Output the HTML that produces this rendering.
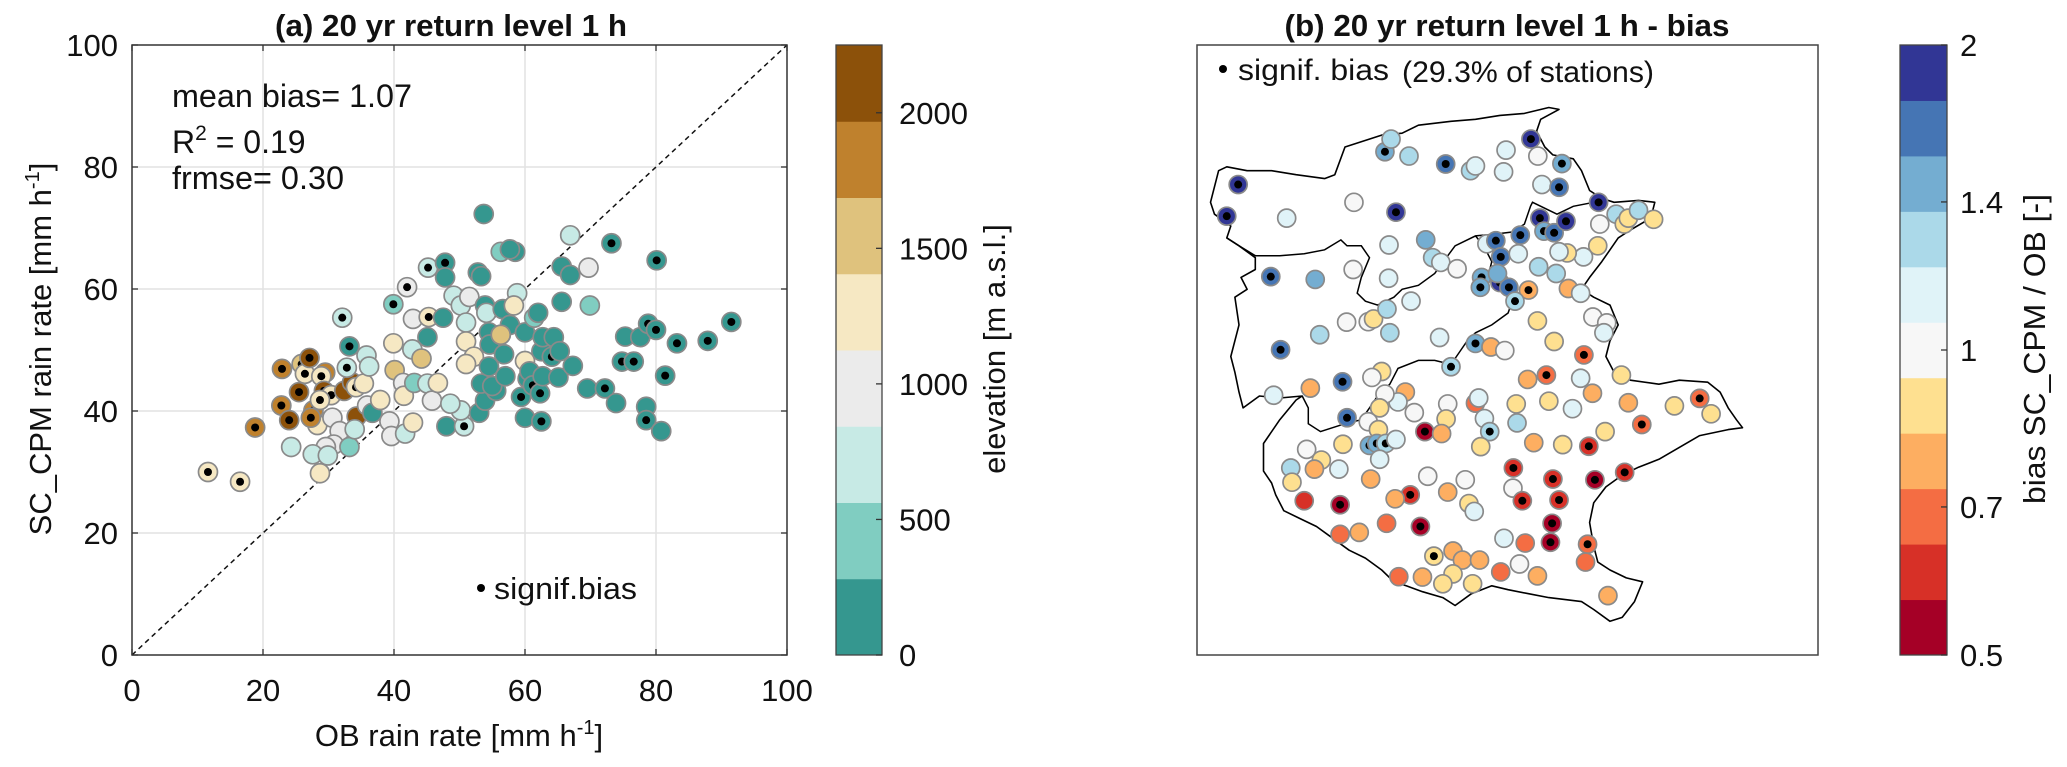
<!DOCTYPE html>
<html><head><meta charset="utf-8"><style>
body{margin:0;background:#fff}
svg{display:block;font-family:"Liberation Sans",Arial,sans-serif}
</style></head><body>
<svg id="chart" width="2067" height="767" viewBox="0 0 2067 767" xmlns="http://www.w3.org/2000/svg">
<g id="pa"></g>
<g id="pb"></g>
</svg>
<script>
// ---- Panel (a) data ----
const obRate=[11.6,16.5,18.8,22.9,22.8,24.0,25.5,25.9,26.4,27.1,27.7,28.3,27.3,29.5,28.9,29.3,30.4,28.7,32.4,33.6,34.3,34.2,35.4,32.1,33.2,32.8,30.6,31.7,30.8,29.6,27.6,29.9,28.7,24.3,33.2,34.0,35.9,36.7,37.9,35.8,36.2,39.9,40.1,39.3,39.6,41.7,41.4,41.5,42.9,43.1,42.8,42.9,44.2,45.1,45.8,46.7,45.1,45.3,45.2,39.9,42.0,47.8,47.8,47.5,48.0,50.7,50.2,48.6,49.1,50.2,51.5,51.0,51.0,52.2,51.0,53.7,52.8,53.3,53.9,54.1,53.0,53.9,53.3,54.5,55.6,55.0,54.5,54.6,56.3,56.3,58.5,57.7,56.8,57.0,56.6,57.7,58.8,58.3,56.3,60.0,59.4,60.0,60.4,60.0,60.7,61.2,61.4,62.0,62.3,62.5,62.7,62.5,62.7,64.1,64.4,65.1,65.3,65.6,66.9,65.6,66.9,67.3,69.7,69.9,69.5,72.2,73.2,73.9,74.8,76.6,75.3,77.6,78.5,78.5,78.8,80.0,80.1,80.8,81.4,83.2,87.9,91.5];
const cpmRate=[30.0,28.4,37.3,46.9,40.9,38.5,43.1,47.7,46.1,48.7,40.1,37.7,38.9,46.3,45.7,43.3,42.6,41.8,43.3,44.7,39.1,43.9,44.5,55.3,50.6,47.1,38.9,36.7,34.5,34.1,32.9,32.7,29.8,34.1,34.1,37.0,40.9,39.7,41.8,49.1,47.3,51.1,46.7,38.3,35.9,36.3,44.6,42.5,38.1,44.6,50.1,55.1,48.6,44.5,41.7,44.6,52.1,55.4,63.5,57.5,60.3,64.3,61.9,55.3,37.5,37.5,40.1,41.2,58.9,57.3,58.7,54.5,51.4,48.9,47.7,72.3,62.7,62.1,57.3,56.1,39.7,41.7,44.5,47.3,43.3,44.1,52.9,50.9,52.5,66.1,66.1,66.5,49.3,45.7,56.7,54.1,59.3,57.3,52.5,48.2,42.3,38.9,45.3,52.9,46.5,44.2,55.3,56.1,42.9,38.3,45.7,49.8,52.1,48.9,52.1,45.5,49.8,63.7,62.3,57.9,68.8,47.4,63.5,57.3,43.7,43.7,67.5,41.3,48.1,48.1,52.2,52.1,40.7,38.5,54.3,53.3,64.7,36.7,45.8,51.1,51.5,54.6];
const elevation=[1265,1265,1830,1830,1830,2110,2110,1545,1265,2110,1830,1265,1830,1830,1265,2110,1265,1265,2110,2110,2110,1265,1265,700,140,700,985,985,985,985,700,700,1265,700,420,700,985,140,1265,700,700,1265,1545,985,985,700,985,1265,1265,420,700,985,1545,700,985,1265,140,1265,700,420,985,140,140,140,140,700,700,700,700,700,985,700,1265,1265,1265,140,140,140,140,700,140,140,140,140,140,140,140,140,700,420,140,140,140,140,140,140,700,1265,1545,1265,140,140,140,140,140,140,420,140,140,140,140,140,140,140,140,140,140,140,140,140,700,140,985,420,140,140,140,140,140,140,140,140,140,140,140,140,140,140,140,140,140,140];
const signifA=[1,1,1,1,1,1,1,1,1,1,1,0,1,1,1,1,1,1,0,1,0,1,0,1,1,1,0,0,0,0,0,0,0,0,0,0,0,0,0,0,0,0,0,0,0,0,0,0,0,0,0,0,0,0,0,0,0,1,1,1,1,1,0,0,0,1,0,0,0,0,0,0,0,0,0,0,0,0,0,0,0,0,0,0,0,0,0,0,0,0,0,0,0,0,0,0,0,0,0,0,1,0,0,0,0,1,0,0,1,1,0,0,0,1,0,0,0,0,0,0,0,0,0,0,0,1,1,0,1,1,0,0,0,1,1,1,1,0,1,1,1,1,1];
const axisTicks=[0,20,40,60,80,100];
const elevTicks=[0,500,1000,1500,2000];
const elevEdges=[0,281.25,562.5,843.75,1125,1406.25,1687.5,1968.75,2250];
const elevColors=["#35978f","#80cdc1","#c7eae5","#ebebeb","#f6e8c3","#dfc27d","#bf812d","#8c510a"];
// ---- Panel (b) data (map-frame coordinates) ----
const stX=[118,90,237,402,505,478,493,537,627,688,700,775,769,836,853,912,863,905,1002,488,578,595,615,655,487,400,198,307,384,437,450,483,490,318,542,612,222,728,750,762,810,805,858,868,893,922,1005,1045,1065,1075,1100,1137,1000,965,925,905,855,898,928,958,715,712,760,782,754,830,797,852,893,988,1022,1015,700,738,772,966,874,828,958,1058,987,640,470,446,374,295,205,528,510,478,465,550,632,700,708,722,628,735,802,800,880,938,1075,1188,1250,1278,1108,1018,978,914,843,713,576,617,385,437,462,375,440,458,480,505,465,286,322,247,305,365,250,443,583,675,793,792,890,993,1066,280,368,540,503,632,684,697,815,905,482,565,888,368,415,770,822,884,975,970,598,645,668,710,808,762,852,645,620,693,570,512,1025];
const stY=[365,445,450,410,435,282,250,293,313,330,318,278,333,250,293,312,365,372,410,518,505,550,562,578,602,580,598,605,713,712,705,680,740,745,660,752,783,515,507,548,493,540,450,483,487,458,465,440,465,450,430,453,520,548,538,535,573,590,628,640,600,625,613,625,590,632,660,710,762,700,715,740,767,776,785,796,847,858,855,847,893,826,838,853,864,880,898,890,915,895,930,942,920,918,905,957,958,990,968,920,913,932,917,925,906,945,972,990,1027,1023,1018,1028,990,995,955,965,985,1022,1025,1020,1020,1010,1060,1035,1062,1082,1085,1085,1118,1110,1103,1112,1082,1133,1110,1112,1093,1165,1175,1150,1160,1143,1172,1192,1165,1163,1222,1230,1222,1250,1245,1260,1272,1270,1275,1320,1305,1292,1315,1315,1325,1345,1355,1350,1375,1375,1358,1357,1405];
const stBias=[1.88,1.88,1.13,1.0,1.88,1.46,1.29,1.29,1.65,1.29,1.13,1.13,1.13,1.88,1.0,1.46,1.13,1.65,1.88,1.13,1.46,1.29,1.13,1.0,1.13,1.0,1.65,1.46,1.0,1.0,0.88,1.29,1.29,1.29,1.13,1.13,1.65,1.13,1.65,1.65,1.65,1.13,1.88,1.46,1.65,1.88,1.0,1.29,0.88,0.88,1.29,0.88,0.88,1.13,0.88,1.13,1.29,1.29,0.78,1.13,1.46,1.46,1.88,1.65,1.46,0.78,1.29,0.88,0.88,1.0,1.0,1.13,1.46,0.78,1.0,0.68,0.68,0.78,1.13,0.88,0.78,1.29,0.88,1.0,1.65,0.78,1.13,0.78,1.13,1.0,0.88,1.0,1.0,0.68,1.13,1.13,0.88,1.29,1.29,0.88,0.88,1.13,0.78,0.88,0.68,0.88,0.68,0.88,0.6,0.88,0.78,0.88,0.53,0.78,1.65,1.0,0.88,0.88,1.46,1.46,1.29,1.13,1.13,1.0,0.88,1.29,0.78,1.13,0.88,0.78,1.0,1.0,0.6,1.0,0.6,0.53,0.6,0.6,0.53,0.6,0.78,0.78,0.88,1.13,0.6,0.6,0.68,0.53,0.53,0.68,0.78,1.13,0.68,0.53,0.68,0.68,0.88,0.78,0.78,0.78,1.0,0.68,0.78,0.88,0.88,0.88,0.78,0.68,0.78];
const stSig=[1,1,0,0,1,1,0,0,1,0,0,0,0,1,0,1,0,1,1,0,0,0,0,0,0,0,1,0,0,0,0,0,0,0,0,0,1,0,1,1,1,0,1,1,1,1,0,0,0,0,0,0,0,0,0,0,0,0,0,0,1,1,1,1,0,1,1,0,0,0,0,0,1,0,0,1,1,0,0,0,0,1,0,0,1,0,0,0,0,0,0,0,0,0,0,0,0,1,0,0,0,0,0,0,1,0,1,0,1,0,0,0,1,0,1,0,0,0,1,1,1,0,0,0,0,0,0,0,0,0,0,0,1,0,1,1,1,0,1,1,0,0,0,0,1,1,0,1,1,0,0,0,0,1,1,0,1,0,0,0,0,0,0,0,0,0,0,0];
const biasTicks=[0.5,0.7,1,1.4,2];
const biasColors=["#a50026","#d73027","#f46d43","#fdae61","#fee090","#f7f7f7","#e0f3f8","#abd9e9","#74add1","#4575b4","#313695"];

const NS="http://www.w3.org/2000/svg";
function mk(parent,tag,attrs,text){const e=document.createElementNS(NS,tag);for(const k in attrs)e.setAttribute(k,attrs[k]);if(text!==undefined)e.textContent=text;parent.appendChild(e);return e;}

// ===== Panel A =====
const A={x0:132,x1:787,y0:655,y1:45};
const ax=v=>A.x0+(v/100)*(A.x1-A.x0);
const ay=v=>A.y0-(v/100)*(A.y0-A.y1);
const pa=document.getElementById('pa');
axisTicks.forEach(t=>{
  if(t>0&&t<100){
    let g=mk(pa,'line',{x1:ax(t),x2:ax(t),y1:A.y1,y2:A.y0,stroke:'#e2e2e2','stroke-width':1.5});
    
    
    g=mk(pa,'line',{x1:A.x0,x2:A.x1,y1:ay(t),y2:ay(t),stroke:'#e2e2e2','stroke-width':1.5});
    
    
  }
  let l=mk(pa,'text',{x:ax(t),y:701,'font-size':31,'text-anchor':'middle',fill:'#111'},t);
  
  
  l=mk(pa,'text',{x:118,y:ay(t)+11,'font-size':31,'text-anchor':'end',fill:'#111'},t);
  
  
  mk(pa,'line',{x1:ax(t),x2:ax(t),y1:A.y0,y2:A.y0-6,stroke:'#333','stroke-width':1.3});
  mk(pa,'line',{x1:ax(t),x2:ax(t),y1:A.y1,y2:A.y1+6,stroke:'#333','stroke-width':1.3});
  mk(pa,'line',{x1:A.x0,x2:A.x0+6,y1:ay(t),y2:ay(t),stroke:'#333','stroke-width':1.3});
  mk(pa,'line',{x1:A.x1,x2:A.x1-6,y1:ay(t),y2:ay(t),stroke:'#333','stroke-width':1.3});
});
let diag=mk(pa,'line',{x1:ax(0),y1:ay(0),x2:ax(100),y2:ay(100),stroke:'#111','stroke-width':1.5,'stroke-dasharray':'5,4'});


function elevColor(e){for(let i=0;i<elevColors.length;i++){if(e<elevEdges[i+1])return elevColors[i];}return elevColors[elevColors.length-1];}
for(let i=0;i<obRate.length;i++){
  const c=mk(pa,'circle',{cx:ax(obRate[i]),cy:ay(cpmRate[i]),r:9.5,fill:elevColor(elevation[i]),stroke:'#8a8a8a','stroke-width':1.7});
  
  
  if(signifA[i]){const d=mk(pa,'circle',{cx:ax(obRate[i]),cy:ay(cpmRate[i]),r:4,fill:'#000'});
    
    }
}
let fa=mk(pa,'rect',{x:A.x0,y:A.y1,width:A.x1-A.x0,height:A.y0-A.y1,fill:'none',stroke:'#333','stroke-width':1.5});


let ta=mk(pa,'text',{x:451,y:36,'font-size':31,'font-weight':'bold','text-anchor':'middle',fill:'#111',textLength:352,lengthAdjust:'spacingAndGlyphs'},'(a) 20 yr return level 1 h');


let st1=mk(pa,'text',{x:172,y:107,'font-size':32,fill:'#111',textLength:240,lengthAdjust:'spacingAndGlyphs'},'mean bias= 1.07');


let st2=mk(pa,'text',{x:172,y:153,'font-size':32,fill:'#111'});


st2.innerHTML='R<tspan dy="-13" font-size="21">2</tspan><tspan dy="13"> = 0.19</tspan>';
let st3=mk(pa,'text',{x:172,y:189,'font-size':32,fill:'#111',textLength:172,lengthAdjust:'spacingAndGlyphs'},'frmse= 0.30');


let sgA=mk(pa,'circle',{cx:481,cy:588,r:4,fill:'#000'});


let sgAt=mk(pa,'text',{x:494,y:599,'font-size':31,fill:'#111',textLength:143,lengthAdjust:'spacingAndGlyphs'},'signif.bias');


let xl=mk(pa,'text',{x:459,y:746,'font-size':31,'text-anchor':'middle',fill:'#111'});


xl.innerHTML='OB rain rate [mm h<tspan dy="-12" font-size="20">-1</tspan><tspan dy="12">]</tspan>';
let yl=mk(pa,'text',{x:0,y:0,'font-size':31,'text-anchor':'middle',fill:'#111',transform:'translate(51,349) rotate(-90)'});


yl.innerHTML='SC_CPM rain rate [mm h<tspan dy="-12" font-size="20">-1</tspan><tspan dy="12">]</tspan>';
// colorbar A
const CA={x:836,w:46,y0:655,y1:45,max:2250};
const cay=v=>CA.y0-(v/CA.max)*(CA.y0-CA.y1);
for(let i=0;i<elevColors.length;i++){
  const r=mk(pa,'rect',{x:CA.x,y:cay(elevEdges[i+1]),width:CA.w,height:cay(elevEdges[i])-cay(elevEdges[i+1])+0.5,fill:elevColors[i]});
  
  
}
mk(pa,'rect',{x:CA.x,y:CA.y1,width:CA.w,height:CA.y0-CA.y1,fill:'none',stroke:'#444','stroke-width':1.3});
elevTicks.forEach(t=>{
  mk(pa,'line',{x1:CA.x+CA.w-6,x2:CA.x+CA.w,y1:cay(t),y2:cay(t),stroke:'#333','stroke-width':1.3});
  const l=mk(pa,'text',{x:899,y:cay(t)+11,'font-size':31,fill:'#111'},t);
  
  
});
let el=mk(pa,'text',{x:0,y:0,'font-size':31,'text-anchor':'middle',fill:'#111',transform:'translate(1005,349) rotate(-90)'},'elevation [m a.s.l.]');



// ===== Panel B =====
const pb=document.getElementById('pb');
const B={x0:1197,x1:1818,y0:45,y1:655};
const mx=p=>B.x0+(p-17)*0.4077;
const my=p=>B.y0+(p-12)*0.3953;
const outline=[[50,410],[70,330],[90,320],[140,330],[200,330],[260,340],[330,350],[355,340],[380,270],[470,240],[520,235],[560,215],[640,205],[700,200],[760,190],[820,185],[880,170],[905,175],[860,200],[850,230],[870,270],[890,290],[940,300],[960,330],[980,380],[1010,400],[1040,410],[1100,405],[1140,410],[1130,450],[1080,480],[1050,500],[1030,530],[1010,560],[980,600],[960,630],[990,650],[1030,670],[1050,720],[1030,760],[1020,800],[1040,840],[1080,860],[1150,870],[1200,860],[1270,865],[1300,890],[1320,930],[1340,960],[1355,980],[1320,985],[1250,1000],[1200,1030],[1150,1060],[1100,1080],[1060,1100],[1020,1130],[990,1170],[980,1220],[990,1280],[1000,1320],[1030,1340],[1070,1360],[1110,1370],[1090,1420],[1060,1460],[1030,1470],[990,1440],[960,1420],[920,1415],[880,1410],[830,1400],[780,1390],[740,1380],[690,1400],[650,1430],[620,1410],[570,1395],[530,1380],[500,1370],[470,1340],[430,1310],[390,1290],[350,1260],[310,1230],[270,1210],[230,1190],[210,1150],[200,1120],[180,1090],[180,1020],[220,960],[260,910],[275,900],[220,905],[170,900],[130,930],[120,890],[110,840],[100,800],[120,720],[110,650],[140,630],[125,600],[160,580],[160,550],[120,520],[90,500],[100,470],[60,440],[50,410]];
const border1=[[90,500],[120,520],[160,545],[220,545],[280,540],[330,530],[370,505],[385,520],[420,520],[440,550],[420,600],[410,640],[430,660],[460,670],[500,650],[520,630],[560,620],[600,590],[650,520],[700,495],[750,490],[790,485],[820,465],[835,420],[840,410],[880,430],[900,440],[940,420],[990,410],[1010,400]];
const border2=[[700,495],[720,520],[740,560],[730,600],[760,630],[790,660],[780,690],[740,720],[700,740],[680,760],[660,790],[640,820],[600,810],[560,810],[510,830],[490,870],[460,900],[440,930],[420,960],[380,970],[320,990],[290,970],[290,930],[275,900]];
function pathOf(pts,close){return pts.map((p,i)=>(i?'L':'M')+mx(p[0]).toFixed(1)+','+my(p[1]).toFixed(1)).join('')+(close?'Z':'');}
let ol=mk(pb,'path',{d:pathOf(outline,true),fill:'none',stroke:'#000','stroke-width':1.6,'stroke-linejoin':'round'});


[border1,border2].forEach(b=>{const p=mk(pb,'path',{d:pathOf(b,false),fill:'none',stroke:'#000','stroke-width':1.5});
  
  });
const LMIN=Math.log(0.5),LMAX=Math.log(2);
function biasColor(b){let k=Math.floor((Math.log(b)-LMIN)/(LMAX-LMIN)*biasColors.length);k=Math.max(0,Math.min(biasColors.length-1,k));return biasColors[k];}
for(let i=0;i<stX.length;i++){
  const c=mk(pb,'circle',{cx:mx(stX[i]),cy:my(stY[i]),r:9,fill:biasColor(stBias[i]),stroke:'#8a8a8a','stroke-width':1.7});
  
  
  if(stSig[i]){const d=mk(pb,'circle',{cx:mx(stX[i]),cy:my(stY[i]),r:4,fill:'#000'});
    
    }
}
let fb=mk(pb,'rect',{x:B.x0,y:B.y0,width:B.x1-B.x0,height:B.y1-B.y0,fill:'none',stroke:'#444','stroke-width':1.5});


let tb=mk(pb,'text',{x:1507,y:36,'font-size':31,'font-weight':'bold','text-anchor':'middle',fill:'#111',textLength:445,lengthAdjust:'spacingAndGlyphs'},'(b) 20 yr return level 1 h - bias');


let sgB=mk(pb,'circle',{cx:1223,cy:69,r:4,fill:'#000'});


let sgBt=mk(pb,'text',{x:1238,y:80,'font-size':30,fill:'#111',textLength:151,lengthAdjust:'spacingAndGlyphs'},'signif. bias');


let pct=mk(pb,'text',{x:1402,y:82,'font-size':30,fill:'#111',textLength:252,lengthAdjust:'spacingAndGlyphs'},'(29.3% of stations)');


// colorbar B
const CB={x:1900,w:47,y0:655,y1:45};
const cby=v=>CB.y0-(Math.log(v)-LMIN)/(LMAX-LMIN)*(CB.y0-CB.y1);
const nB=biasColors.length;
for(let i=0;i<nB;i++){
  const lo=Math.exp(LMIN+(LMAX-LMIN)*i/nB),hi=Math.exp(LMIN+(LMAX-LMIN)*(i+1)/nB);
  const r=mk(pb,'rect',{x:CB.x,y:cby(hi),width:CB.w,height:cby(lo)-cby(hi)+0.5,fill:biasColors[i]});
  
  
}
mk(pb,'rect',{x:CB.x,y:CB.y1,width:CB.w,height:CB.y0-CB.y1,fill:'none',stroke:'#444','stroke-width':1.3});
biasTicks.forEach(t=>{
  mk(pb,'line',{x1:CB.x+CB.w-6,x2:CB.x+CB.w,y1:cby(t),y2:cby(t),stroke:'#333','stroke-width':1.3});
  const l=mk(pb,'text',{x:1960,y:cby(t)+11,'font-size':31,fill:'#111'},t);
  
  
});
let bl=mk(pb,'text',{x:0,y:0,'font-size':31,'text-anchor':'middle',fill:'#111',transform:'translate(2045,349) rotate(-90)',textLength:310,lengthAdjust:'spacingAndGlyphs'},'bias SC_CPM / OB [-]');


</script>
</body></html>
